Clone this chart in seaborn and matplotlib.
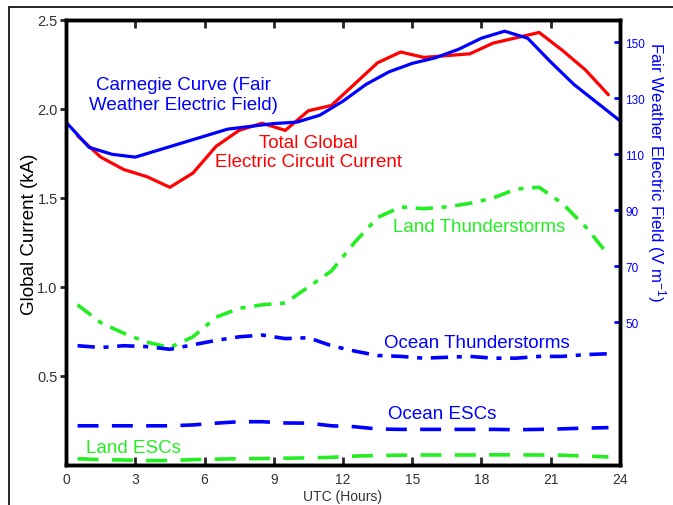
import numpy as np
import pandas as pd
import seaborn as sns
import matplotlib.pyplot as plt
from matplotlib.patches import Rectangle

sns.set_style("white")
plt.rcParams['font.family'] = ['Liberation Sans', 'DejaVu Sans']
plt.rcParams['mathtext.default'] = 'regular'

# Saat (UTC)
hours_full = [0, 1, 2, 3, 4, 5, 6, 7, 8, 9, 10, 11, 12,
              13, 14, 15, 16, 17, 18, 19, 20, 21, 22, 23, 24]
hours_half = [0.5, 1.5, 2.5, 3.5, 4.5, 5.5, 6.5, 7.5, 8.5, 9.5, 10.5, 11.5,
              12.5, 13.5, 14.5, 15.5, 16.5, 17.5, 18.5, 19.5, 20.5, 21.5, 22.5, 23.5]

# Carnegie egrisi (V/m, sag eksen)
carnegie = [121.5, 112.5, 110, 109, 111.5, 114, 116.5, 119, 120, 121, 121.5, 124, 129,
            135, 139.5, 142.5, 144.5, 147.5, 151.5, 154, 151.5, 143, 135, 128.5, 122]

# Akimlar (kA, sol eksen)
total_current = [1.85, 1.73, 1.66, 1.62, 1.56, 1.64, 1.79, 1.88, 1.92, 1.88, 1.99, 2.02,
                 2.14, 2.26, 2.32, 2.29, 2.30, 2.31, 2.37, 2.40, 2.43, 2.33, 2.22, 2.08]
land_storms = [0.90, 0.80, 0.74, 0.69, 0.66, 0.72, 0.83, 0.88, 0.90, 0.91, 1.00, 1.09,
               1.25, 1.39, 1.45, 1.44, 1.45, 1.47, 1.50, 1.55, 1.56, 1.47, 1.34, 1.18]
ocean_storms = [0.67, 0.66, 0.67, 0.665, 0.65, 0.675, 0.70, 0.72, 0.73, 0.71, 0.715, 0.67,
                0.64, 0.615, 0.61, 0.60, 0.605, 0.61, 0.60, 0.60, 0.61, 0.61, 0.62, 0.625]
ocean_escs = [0.22, 0.22, 0.22, 0.22, 0.22, 0.225, 0.235, 0.243, 0.243, 0.236, 0.235, 0.22,
              0.215, 0.202, 0.20, 0.20, 0.20, 0.20, 0.20, 0.198, 0.20, 0.203, 0.207, 0.21]
land_escs = [0.035, 0.03, 0.028, 0.025, 0.025, 0.03, 0.033, 0.035, 0.036, 0.038, 0.04, 0.043,
             0.05, 0.053, 0.055, 0.056, 0.056, 0.056, 0.057, 0.057, 0.056, 0.055, 0.05, 0.045]

df = pd.DataFrame({"UTC": hours_half, "total": total_current, "land": land_storms,
                   "ocean": ocean_storms, "ocean_esc": ocean_escs, "land_esc": land_escs})
df_c = pd.DataFrame({"UTC": hours_full, "carnegie": carnegie})

BLUE = "#0000ff"
RED = "#ff0000"
GREEN = "#22ee22"

fig = plt.figure(figsize=(6.73, 5.06), dpi=100)
ax = fig.add_axes([0.0981, 0.0791, 0.8231, 0.8794])
ax2 = ax.twinx()

dashdot = (0, (4.8, 2.4, 1.4, 2.4))
dashed = (0, (5.8, 3.7))

sns.lineplot(data=df, x="UTC", y="total", ax=ax, color=RED, lw=2.3)
sns.lineplot(data=df, x="UTC", y="land", ax=ax, color=GREEN, lw=2.6, linestyle=dashdot)
sns.lineplot(data=df, x="UTC", y="ocean", ax=ax, color=BLUE, lw=2.6, linestyle=dashdot)
sns.lineplot(data=df, x="UTC", y="ocean_esc", ax=ax, color=BLUE, lw=2.6, linestyle=dashed)
sns.lineplot(data=df, x="UTC", y="land_esc", ax=ax, color=GREEN, lw=2.6, linestyle=dashed)
sns.lineplot(data=df_c, x="UTC", y="carnegie", ax=ax2, color=BLUE, lw=2.3)

ax.set_xlim(0, 24)
ax.set_ylim(0, 2.5)
ax2.set_ylim(-1, 158)

ax.set_xticks(range(0, 25, 3))
ax.set_yticks([0.5, 1.0, 1.5, 2.0, 2.5])
ax.set_yticklabels(["0.5", "1.0", "1.5", "2.0", "2.5"])
ax2.set_yticks([50, 70, 90, 110, 130, 150])

ax.tick_params(axis="x", direction="in", top=True, bottom=True, length=6, width=2,
               labelsize=10, labelcolor="#333333", pad=5)
ax.tick_params(axis="y", direction="out", left=True, length=4, width=2,
               labelsize=10.5, labelcolor="#333333", pad=2)
ax2.tick_params(axis="y", direction="in", right=True, length=4, width=2, color=BLUE,
                labelsize=8.5, labelcolor=BLUE, pad=4)

for a in (ax, ax2):
    for s in a.spines.values():
        s.set_color("black")
        s.set_linewidth(2.5)

ax.set_xlabel("UTC (Hours)", fontsize=10, color="#333333")
ax.xaxis.set_label_coords(0.5, -0.055)
ax.set_ylabel("Global Current (kA)", fontsize=13.5, color="black")
ax.yaxis.set_label_coords(-0.05, 0.52)
ax2.set_ylabel("Fair Weather Electric Field (V m$^{-1}$)", fontsize=12.2, color=BLUE,
               rotation=270, va="bottom")
ax2.yaxis.set_label_coords(1.046, 0.66)

# Egri etiketleri
ax.text(5.1, 2.08, "Carnegie Curve (Fair\nWeather Electric Field)", color=BLUE,
        fontsize=13.5, ha="center", va="center", linespacing=1.25)
ax.text(10.5, 1.76, "Total Global\nElectric Circuit Current", color=RED,
        fontsize=13.5, ha="center", va="center", linespacing=1.15)
ax.text(17.9, 1.34, "Land Thunderstorms", color=GREEN, fontsize=13.5, ha="center", va="center")
ax.text(17.8, 0.69, "Ocean Thunderstorms", color=BLUE, fontsize=13.5, ha="center", va="center")
ax.text(16.3, 0.287, "Ocean ESCs", color=BLUE, fontsize=13.5, ha="center", va="center")
ax.text(2.9, 0.10, "Land ESCs", color=GREEN, fontsize=13.5, ha="center", va="center")

# Dis cerceve
fig.patches.append(Rectangle((9 / 673, -0.05), 1.2, 1 - 8 / 506 + 0.05,
                             transform=fig.transFigure, fill=False,
                             edgecolor="black", lw=1.2))

fig.savefig("out.png", dpi=100)
